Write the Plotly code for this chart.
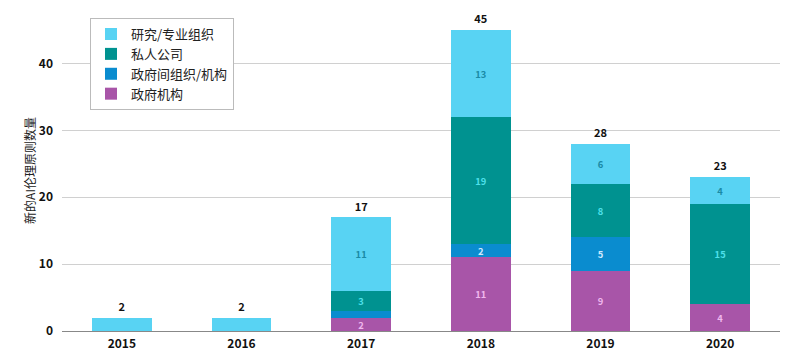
import plotly.graph_objects as go

years = ["2015", "2016", "2017", "2018", "2019", "2020"]
gov = [0, 0, 2, 11, 9, 4]
intergov = [0, 0, 1, 2, 5, 0]
private = [0, 0, 3, 19, 8, 15]
research = [2, 2, 11, 13, 6, 4]

series = [
    ("政府机构", gov, "#a855a8", "#f0b8ee", 2),
    ("政府间组织/机构", intergov, "#0a8ccf", "#cfeaff", 2),
    ("私人公司", private, "#009290", "#4fe0ea", 2),
    ("研究/专业组织", research, "#58d3f3", "#1a8aa6", 3),
]

totals = [a + b + c + d for a, b, c, d in zip(gov, intergov, private, research)]

FONT = "Noto Sans CJK SC"
fig = go.Figure()
for name, vals, color, tcol, minlab in series:
    fig.add_trace(go.Bar(
        x=years, y=vals, name=name, marker=dict(color=color, line=dict(width=0)),
        text=[str(v) if v >= minlab else "" for v in vals],
        textposition="inside", insidetextanchor="middle", textangle=0,
        textfont=dict(color=tcol, size=10, family=FONT, weight="bold"),
        hoverinfo="skip",
    ))

fig.add_trace(go.Scatter(
    x=years, y=[t + 0.6 for t in totals], mode="text", text=[str(t) for t in totals],
    textposition="top center", showlegend=False,
    textfont=dict(color="#111111", size=11, family=FONT, weight="bold"),
    cliponaxis=False, hoverinfo="skip",
))

fig.update_layout(
    width=800, height=364,
    barmode="stack", bargap=0.5,
    plot_bgcolor="white", paper_bgcolor="white",
    margin=dict(l=54, r=28, t=2, b=41),
    font=dict(family=FONT, size=12, color="#222222"),
    uniformtext=dict(minsize=8, mode="show"),
    legend=dict(
        x=0.039, y=0.975, xanchor="left", yanchor="top",
        traceorder="reversed", bordercolor="#bbbbbb", borderwidth=1,
        bgcolor="white", font=dict(size=13, family=FONT, color="#222222"),
        itemwidth=30, tracegroupgap=0,
    ),
    xaxis=dict(
        showgrid=False, ticks="", showline=False, ticklabelstandoff=4,
        tickfont=dict(size=12, family=FONT, weight="bold", color="#111111"),
    ),
    yaxis=dict(
        range=[0, 48], tickvals=[0, 10, 20, 30, 40],
        showgrid=True, gridcolor="#d0d0d0", gridwidth=1,
        zeroline=True, zerolinecolor="#888888", zerolinewidth=1,
        tickfont=dict(size=12, family=FONT, weight="bold", color="#111111"),
        ticklabelstandoff=8,
        title=dict(text="新的AI伦理原则数量", font=dict(size=12, family=FONT, color="#222222"), standoff=0),
    ),
)

fig.write_html("out.html")
